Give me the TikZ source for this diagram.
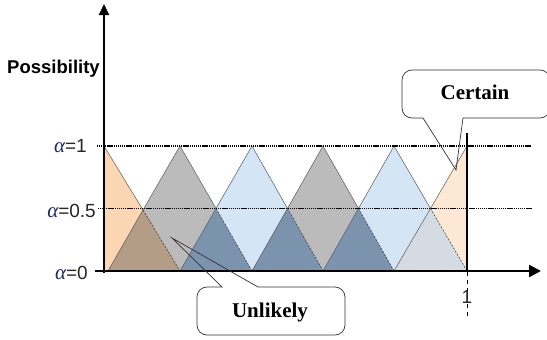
\documentclass[tikz,border=0pt]{standalone}
\usepackage{fontspec}
\setmainfont{Liberation Sans}
\newfontfamily\tnr{Liberation Serif}
\usetikzlibrary{arrows.meta}
\definecolor{orangeA}{HTML}{FAD6B2}
\definecolor{orangeB}{HTML}{FCE8D4}
\definecolor{grayA}{HTML}{BBBBBB}
\definecolor{blueA}{HTML}{D4E5F5}
\definecolor{blueD}{HTML}{7B93AD}
\definecolor{brownA}{HTML}{B49D86}
\definecolor{mixA}{HTML}{D4DBE3}
\definecolor{navy}{HTML}{1E2A66}
\newcommand{\alp}{{\color{navy}\tnr\itshape\fontsize{21}{22}\selectfont α}}
\tikzset{
  tri/.style={draw=black!65, line width=0.5pt},
  ovl/.style={draw=black!75, line width=0.6pt, dash pattern=on 2pt off 1.5pt},
  level/.style={line width=1.3pt, dash pattern=on 1.2pt off 0.7pt},
  alab/.style={font=\fontsize{19}{22}\selectfont, anchor=east, inner sep=0pt, text=black!85},
  callout/.style={draw=black!80, line width=0.7pt},
  ctext/.style={font=\tnr\bfseries\fontsize{21}{24}\selectfont, inner sep=0pt, anchor=base}
}
\begin{document}
\begin{tikzpicture}[x=1pt,y=-1pt]
\useasboundingbox (0,0) rectangle (547,340);
\clip (0,0) rectangle (547,340);
% key coordinates
\coordinate (O) at (104,271);
\coordinate (Ytop) at (104,4);
\coordinate (Xl) at (95,271);
\coordinate (Xr) at (541,271);
% full triangles
\fill[orangeA] (104,146) -- (180,271) -- (104,271) -- cycle;
\fill[grayA] (108,271) -- (180,146) -- (252,271) -- cycle;
\fill[blueA] (180,271) -- (252,146) -- (323,271) -- cycle;
\fill[grayA] (252,271) -- (323,146) -- (394,271) -- cycle;
\fill[blueA] (323,271) -- (394,146) -- (467,271) -- cycle;
\fill[orangeB] (394,271) -- (467,146) -- (467,271) -- cycle;
% overlaps
\fill[brownA] (108,271) -- (143,210) -- (180,271) -- cycle;
\fill[blueD] (180,271) -- (216,208.5) -- (252,271) -- cycle;
\fill[blueD] (252,271) -- (287.5,208.5) -- (323,271) -- cycle;
\fill[blueD] (323,271) -- (358.5,208.5) -- (394,271) -- cycle;
\fill[mixA] (394,271) -- (430.5,208.5) -- (467,271) -- cycle;
% outlines (upper parts solid)
\draw[tri] (104,146) -- (143,210);
\draw[tri] (108,271) -- (143,210) -- (180,146) -- (216,208.5) -- (252,146) -- (287.5,208.5) -- (323,146) -- (358.5,208.5) -- (394,146) -- (430.5,208.5) -- (467,146);
\draw[tri] (180,271) -- (216,208.5);
\draw[tri] (252,271) -- (287.5,208.5);
\draw[tri] (323,271) -- (358.5,208.5);
\draw[tri] (394,271) -- (430.5,208.5);
% lower inner edges dashed
\draw[ovl] (143,210) -- (180,271);
\draw[ovl] (216,208.5) -- (252,271);
\draw[ovl] (287.5,208.5) -- (323,271);
\draw[ovl] (358.5,208.5) -- (394,271);
\draw[ovl] (430.5,208.5) -- (467,271);
% level lines
\draw[level] (97,146) -- (532,146);
\draw[level] (98,208.5) -- (532,208.5);
% axes
\draw[line width=2pt, -{Triangle[length=11pt,width=10pt]}] (104,273) -- (Ytop);
\draw[line width=2.5pt, -{Triangle[length=12pt,width=12pt]}] (Xl) -- (Xr);
% line at 1
\draw[line width=2pt] (467,133) -- (467,271);
\draw[line width=1pt, dash pattern=on 4pt off 4pt] (467,272) -- (467,316);
% labels
\node[anchor=base west, inner sep=0pt, font=\bfseries\fontsize{18.5}{20}\selectfont] (poss) at (7,74) {Possibility};
\node[alab] (a1) at (87,146) {\alp=1};
\node[alab] (a05) at (96,211) {\alp=0.5};
\node[alab] (a0) at (88,273) {\alp=0};
\node[font=\fontsize{19}{20}\selectfont, inner sep=0pt, text=black!85] (one) at (467,297) {1};
% callouts
\node[ctext] (unl) at (270,317) {Unlikely};
\node[ctext] (cer) at (475,99) {Certain};
\draw[callout] (222,287) -- (172,238) -- (258,287) [rounded corners=10pt] -- (345,287) -- (345,335) -- (197,335) -- (197,287) [sharp corners] -- cycle;
\draw[callout] (423,118) -- (456,170) -- (463,118) [rounded corners=10pt] -- (550,118) -- (550,70) -- (402,70) -- (402,118) [sharp corners] -- cycle;
\end{tikzpicture}
\end{document}
